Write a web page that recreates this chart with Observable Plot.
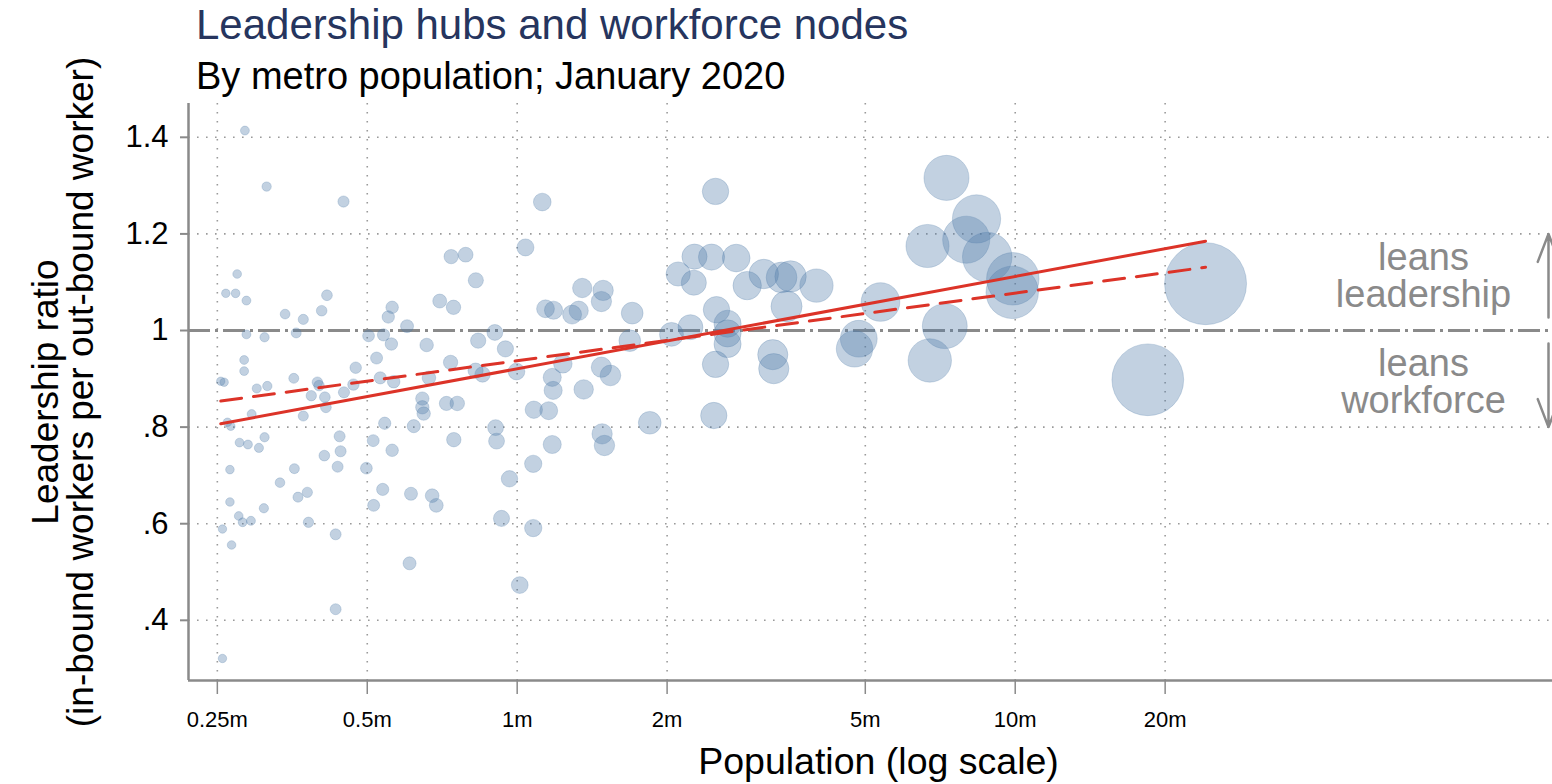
<!DOCTYPE html>
<html><head><meta charset="utf-8">
<script src="https://cdn.jsdelivr.net/npm/d3@7"></script>
<script src="https://cdn.jsdelivr.net/npm/@observablehq/plot@0.6"></script>
<style>
body{margin:0;background:#fff;font-family:"Liberation Sans",Arial,sans-serif;}
#wrap{position:relative;width:1552px;height:784px;overflow:hidden;background:#fff;}
#chart{position:absolute;left:0;top:0;}
#title{position:absolute;left:196px;top:2px;font-size:42px;line-height:46px;color:#26355e;white-space:nowrap;}
#subtitle{position:absolute;left:196px;top:55px;font-size:38px;line-height:42px;color:#000;white-space:nowrap;}
</style></head>
<body>
<div id="wrap"><div id="chart"></div>
<div id="title">Leadership hubs and workforce nodes</div>
<div id="subtitle">By metro population; January 2020</div></div>
<script>
// metro population (millions)
const population = [
0.284,0.314,0.448,0.274,0.260,0.272,0.286,0.342,0.372,0.405,0.415,0.286,0.311,0.360,0.503,0.539,
0.283,0.283,0.254,0.258,0.300,0.315,0.356,0.397,0.400,0.474,0.522,0.531,0.386,0.411,0.449,0.469,
0.413,0.262,0.266,0.293,0.372,0.277,0.288,0.303,0.311,0.440,0.442,0.410,0.436,0.514,0.498,0.265,
0.357,0.334,0.363,0.379,0.265,0.310,0.276,0.281,0.292,0.381,0.515,0.537,0.256,0.267,0.432,0.432,
0.256,1.123,1.039,0.737,0.788,0.826,0.699,0.745,0.561,0.551,0.601,0.559,0.658,0.835,0.902,0.947,
0.735,0.825,0.852,0.565,0.665,0.997,1.176,1.181,1.140,1.183,0.645,0.645,0.649,0.721,0.758,0.620,
0.542,0.905,1.080,1.157,0.909,0.561,0.746,1.176,1.077,0.965,0.612,0.675,0.688,0.930,1.077,0.608,
1.012,2.502,2.105,2.270,2.456,2.753,2.263,2.896,3.127,3.395,3.539,3.474,1.351,1.488,1.476,1.289,
1.329,1.702,2.513,2.041,2.228,2.645,2.645,2.645,1.683,1.235,1.476,1.539,1.360,2.502,3.260,3.275,
1.846,2.482,1.481,1.497,7.278,8.362,6.667,7.973,8.786,9.890,9.863,3.990,5.364,4.852,4.757,7.221,
6.738,24.11,18.46];
// leadership ratio (in-bound workers per out-bound worker)
const ratio = [
1.414,1.298,1.267,1.117,1.077,1.077,1.062,1.034,1.023,1.041,1.073,0.992,0.986,0.995,0.989,0.991,
0.939,0.916,0.895,0.893,0.880,0.885,0.901,0.893,0.886,0.923,0.943,0.902,0.865,0.862,0.872,0.888,
0.841,0.810,0.802,0.827,0.823,0.768,0.764,0.757,0.779,0.781,0.750,0.741,0.718,0.772,0.715,0.712,
0.714,0.685,0.655,0.665,0.645,0.632,0.616,0.603,0.606,0.603,0.638,0.671,0.589,0.556,0.578,0.423,
0.321,1.266,1.172,1.153,1.157,1.104,1.061,1.048,1.048,1.028,1.009,0.972,0.970,0.979,0.996,0.962,
0.934,0.917,0.909,0.894,0.902,0.915,0.903,0.876,1.045,1.042,0.859,0.841,0.828,0.849,0.849,0.802,
0.808,0.799,0.836,0.834,0.771,0.752,0.774,0.764,0.724,0.693,0.662,0.658,0.638,0.611,0.591,0.518,
0.473,1.288,1.117,1.153,1.152,1.150,1.099,1.093,1.117,1.110,1.112,1.050,1.088,1.083,1.060,1.033,
1.041,1.036,1.043,0.992,1.007,1.014,0.994,0.972,0.979,0.931,0.924,0.907,0.878,0.930,0.950,0.921,
0.809,0.824,0.786,0.762,1.316,1.231,1.175,1.188,1.152,1.107,1.079,1.093,1.059,0.983,0.962,1.009,
0.938,1.097,0.898];
// fitted lines (values at the smallest and largest metro)
const fitPopulation = [0.254, 24.11];
const fitSolid = [0.807, 1.185];
const fitDashed = [0.854, 1.131];
const xTicks = [0.25, 0.5, 1, 2, 5, 10, 20];
const xTickLabels = ["0.25m", "0.5m", "1m", "2m", "5m", "10m", "20m"];
const yTicks = [0.4, 0.6, 0.8, 1, 1.2, 1.4];
const yTickLabels = [".4", ".6", ".8", "1", "1.2", "1.4"];
const xDomain = [0.2188, 119.9];
const yDomain = [0.2754, 1.470];

const metros = population.map((p, i) => ({pop: p, ratio: ratio[i]}));
const fit = fitPopulation.map((p, i) => ({pop: p, solid: fitSolid[i], dashed: fitDashed[i]}));
const gridStyle = {stroke: "#9a9a9a", strokeOpacity: 1, strokeWidth: 1.6, strokeDasharray: "1.6,7.4"};
const grey = "#8a8a8a";
const red = "#dc3328";

const chart = Plot.plot({
  width: 1552, height: 784,
  marginTop: 103, marginBottom: 104, marginLeft: 188, marginRight: 0,
  style: {fontFamily: "'Liberation Sans', Arial, sans-serif", background: "white", color: "black"},
  x: {type: "log", domain: xDomain, label: null},
  y: {domain: yDomain, label: null},
  r: {type: "sqrt", domain: [0, d3.max(population)], range: [0, 41]},
  marks: [
    Plot.gridY(yTicks.filter(d => d !== 1), gridStyle),
    Plot.gridX(xTicks, gridStyle),
    Plot.ruleY([1], {stroke: grey, strokeWidth: 3, strokeDasharray: "22,5,3,5"}),
    Plot.dot(metros, {x: "pop", y: "ratio", r: "pop", fill: "#4f7aa8", fillOpacity: 0.35,
      stroke: "#4f7aa8", strokeOpacity: 0.25, strokeWidth: 1}),
    Plot.line(fit, {x: "pop", y: "solid", stroke: red, strokeWidth: 3}),
    Plot.line(fit, {x: "pop", y: "dashed", stroke: red, strokeWidth: 3, strokeDasharray: "21,12"}),
    Plot.ruleX([xDomain[0]], {stroke: grey, strokeWidth: 2.5}),
    Plot.ruleY([yDomain[0]], {stroke: grey, strokeWidth: 2.5}),
    Plot.axisY(yTicks, {tickFormat: d => yTickLabels[yTicks.indexOf(d)], tickSize: 8, tickPadding: 12,
      fontSize: 31, stroke: grey, strokeWidth: 2, fill: "black", label: null}),
    Plot.axisX(xTicks, {tickFormat: d => xTickLabels[xTicks.indexOf(d)], tickSize: 14, tickPadding: 17,
      fontSize: 22, stroke: grey, strokeWidth: 1.5, fill: "black", label: null}),
    Plot.text(["Population (log scale)"], {frameAnchor: "bottom", lineAnchor: "bottom", dy: 93, dx: 8,
      textAnchor: "middle", fontSize: 37.5, fill: "black"}),
    Plot.text(["Leadership ratio\n(in-bound workers per out-bound worker)"], {frameAnchor: "left", rotate: -90,
      dx: -124, textAnchor: "middle", lineAnchor: "middle", lineHeight: 0.95, fontSize: 37, fill: "black"}),
    Plot.text(["leans\nleadership"], {y: 1, frameAnchor: "right", dx: -129, dy: -24, textAnchor: "middle",
      lineAnchor: "bottom", lineHeight: 0.95, fontSize: 38, fill: grey}),
    Plot.text(["leans\nworkforce"], {y: 1, frameAnchor: "right", dx: -129, dy: 82, textAnchor: "middle",
      lineAnchor: "bottom", lineHeight: 0.95, fontSize: 38, fill: grey}),
    Plot.arrow([{y1: 1, y2: 1.2}], {x1: xDomain[1], x2: xDomain[1], y1: "y1", y2: "y2", dx: -4,
      insetStart: 13, stroke: grey, strokeWidth: 2.5, headLength: 18, headAngle: 42}),
    Plot.arrow([{y1: 1, y2: 0.8}], {x1: xDomain[1], x2: xDomain[1], y1: "y1", y2: "y2", dx: -4,
      insetStart: 13, stroke: grey, strokeWidth: 2.5, headLength: 18, headAngle: 42})
  ]
});
document.getElementById("chart").appendChild(chart);
</script>
</body></html>
